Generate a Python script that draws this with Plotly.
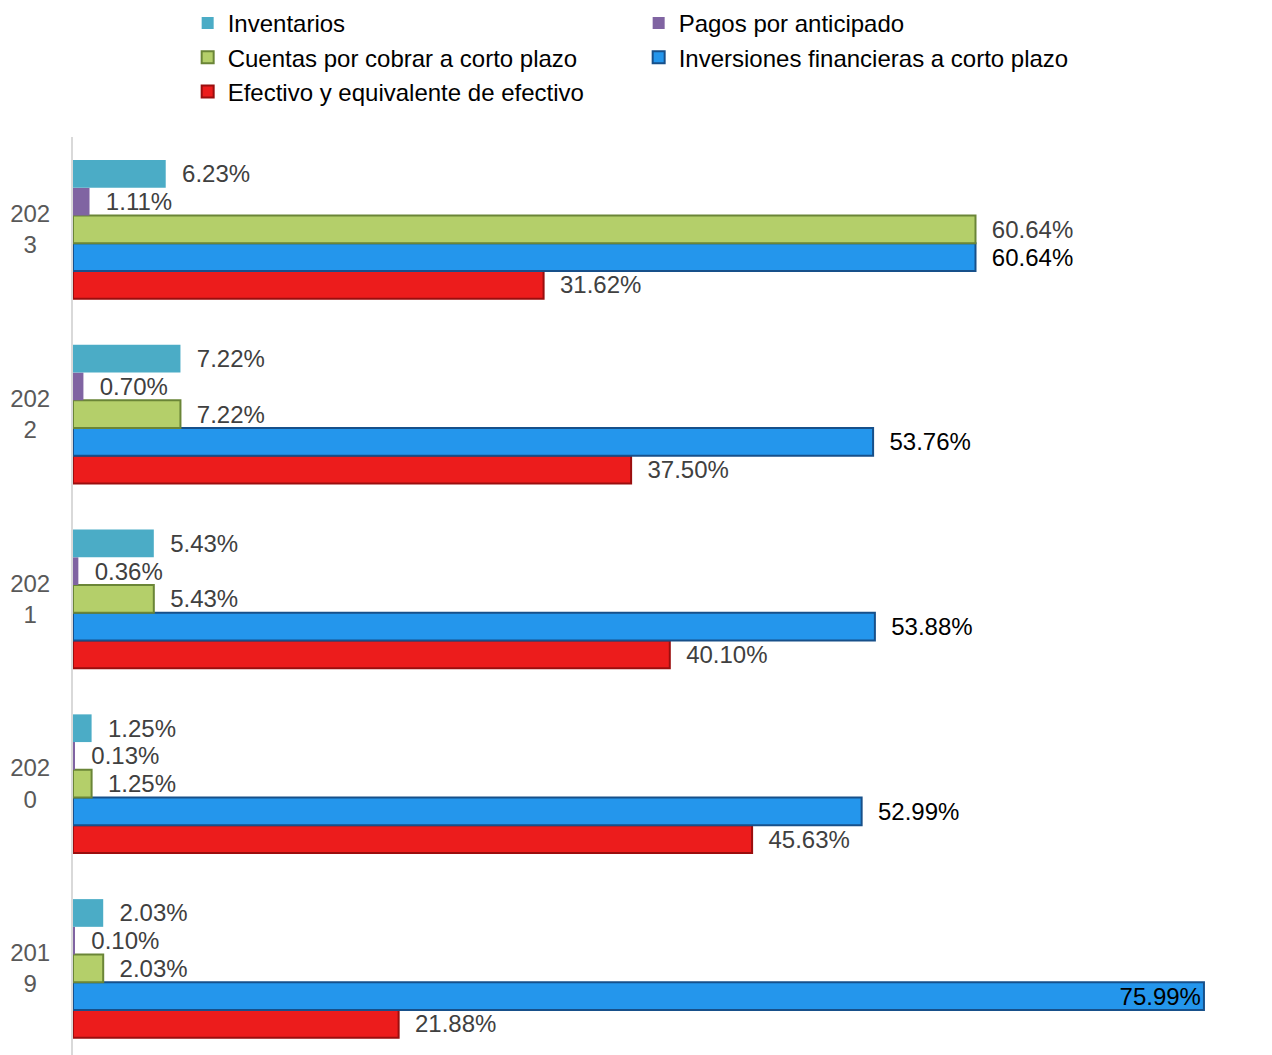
import plotly.graph_objects as go

years = ["2019", "2020", "2021", "2022", "2023"]
year_ticks = ["201<br>9", "202<br>0", "202<br>1", "202<br>2", "202<br>3"]

inventarios = [2.03, 1.25, 5.43, 7.22, 6.23]
pagos = [0.10, 0.13, 0.36, 0.70, 1.11]
cuentas = [2.03, 1.25, 5.43, 7.22, 60.64]
inversiones = [75.99, 52.99, 53.88, 53.76, 60.64]
efectivo = [21.88, 45.63, 40.10, 37.50, 31.62]

# drawn bottom -> top inside each year group
series = [
    ("Efectivo y equivalente de efectivo", efectivo, "#EC1C1C", "#9A0E0E", "#404040"),
    ("Inversiones financieras a corto plazo", inversiones, "#2496EC", "#17508A", "#000000"),
    ("Cuentas por cobrar a corto plazo", cuentas, "#B4CF6A", "#6A8537", "#404040"),
    ("Pagos por anticipado", pagos, "#8064A2", "#8064A2", "#404040"),
    ("Inventarios", inventarios, "#4BACC6", "#4BACC6", "#404040"),
]

FONT = "Liberation Sans"

fig = go.Figure()
for name, vals, fill, edge, tcol in series:
    # the longest bar has no room for its label on the right, keep it at the bar end
    pos = ["inside" if v > 70 else "outside" for v in vals]
    fig.add_bar(
        y=years,
        x=vals,
        orientation="h",
        name=name,
        marker=dict(color=fill, line=dict(color=edge, width=2 if edge != fill else 0)),
        text=[f"{v:.2f}%" for v in vals],
        texttemplate="  %{text}",
        textposition=pos,
        insidetextanchor="end",
        textfont=dict(color=tcol, size=24, family=FONT),
        insidetextfont=dict(color=tcol, size=24, family=FONT),
        outsidetextfont=dict(color=tcol, size=24, family=FONT),
        cliponaxis=False,
        constraintext="none",
    )

fig.update_layout(
    barmode="group",
    bargap=0.25,
    bargroupgap=0,
    width=1272,
    height=1055,
    margin=dict(l=65, r=0, t=129, b=0, autoexpand=False),
    paper_bgcolor="white",
    plot_bgcolor="white",
    font=dict(family=FONT, size=24, color="#404040"),
    legend=dict(
        orientation="h",
        traceorder="reversed",
        entrywidth=406,
        x=0.095,
        y=1.147,
        xanchor="left",
        yanchor="top",
        bgcolor="rgba(0,0,0,0)",
        font=dict(size=24, color="#000000"),
        itemclick=False,
    ),
    showlegend=True,
)
fig.update_xaxes(range=[0, 81.1], visible=False)
fig.update_yaxes(
    type="category",
    tickvals=years,
    ticktext=[t + "\u00a0\u00a0" for t in year_ticks],
    range=[-0.512, 4.5],
    automargin=False,
    showline=True,
    linecolor="#D9D9D9",
    linewidth=2,
    showgrid=False,
    ticks="",
    tickfont=dict(color="#595959", size=24),
    ticklabelstandoff=16,
)

fig.write_html("out.html")
